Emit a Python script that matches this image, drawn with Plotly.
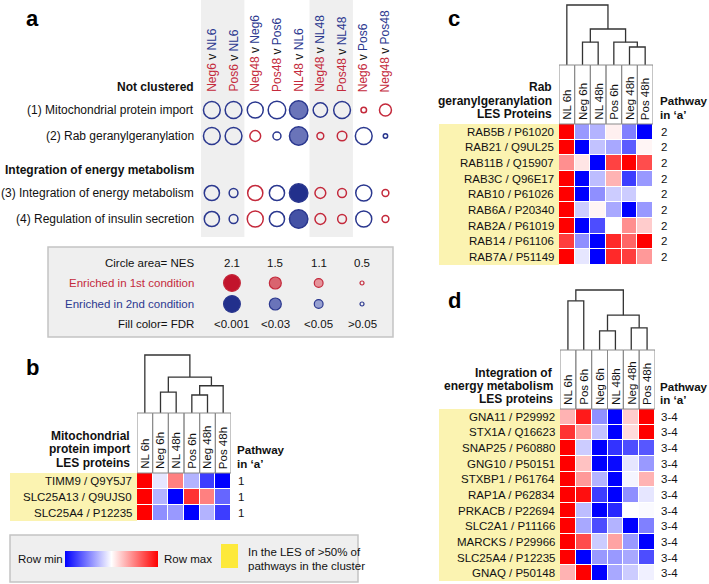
import plotly.graph_objects as go

W, H = 709, 584
FONT = "Arial, 'Liberation Sans', Helvetica, sans-serif"
TXT = "#111111"
RED = "#c42a3c"
BLUE = "#2b388f"

# ---------------- Panel a data ----------------
cond_first = ["Neg6", "Pos6", "Neg48", "Pos48", "NL48", "Neg48", "Pos48", "Neg6", "Neg48"]
cond_second = ["NL6", "NL6", "Neg6", "Pos6", "NL6", "NL48", "NL48", "Pos6", "Pos48"]
pathway_labels = ["(1) Mitochondrial protein import", "(2) Rab geranylgeranylation",
                  "(3) Integration of energy metabolism", "(4) Regulation of insulin secretion"]
group_labels = ["Not clustered", "Integration of energy metabolism"]

nes_mito = [2.1, 2.1, 2.0, 2.2, 2.3, 1.8, 2.1, 0.7, 1.5]
nes_rab = [2.1, 2.1, 1.35, 1.0, 2.3, 0.85, 1.2, 2.1, 0.55]
nes_energy = [1.9, 1.1, 1.9, 1.9, 2.3, 1.35, 1.1, 2.0, 0.85]
nes_insulin = [1.9, 1.1, 2.0, 1.9, 2.3, 1.35, 1.1, 2.0, 0.85]
# 1 = enriched in 1st condition (red), 2 = enriched in 2nd condition (blue)
side_mito = [2, 2, 2, 2, 2, 2, 2, 1, 1]
side_rab = [2, 2, 1, 2, 2, 1, 1, 2, 2]
side_energy = [2, 2, 1, 2, 2, 1, 1, 2, 1]
side_insulin = [2, 2, 1, 2, 2, 1, 1, 2, 1]
fdr_mito = [0.5, 0.5, 0.5, 0.5, 0.02, 0.5, 0.5, 0.5, 0.5]
fdr_rab = [0.5, 0.5, 0.5, 0.5, 0.02, 0.5, 0.5, 0.5, 0.5]
fdr_energy = [0.5, 0.5, 0.5, 0.5, 0.0005, 0.5, 0.5, 0.5, 0.5]
fdr_insulin = [0.5, 0.5, 0.5, 0.5, 0.005, 0.5, 0.5, 0.5, 0.5]

legend_nes = [2.1, 1.5, 1.1, 0.5]
legend_fdr = [0.0005, 0.02, 0.04, 0.5]
legend_fdr_labels = ["&lt;0.001", "&lt;0.03", "&lt;0.05", "&gt;0.05"]

# ---------------- Panel b data ----------------
b_columns = ["NL 6h", "Neg 6h", "NL 48h", "Pos 6h", "Neg 48h", "Pos 48h"]
b_rows = ["TIMM9 / Q9Y5J7", "SLC25A13 / Q9UJS0", "SLC25A4 / P12235"]
b_values = [
    [1.00, 0.45, 0.75, 0.35, 0.12, 0.00],
    [1.00, 0.35, 0.00, 0.90, 0.75, 0.20],
    [1.00, 0.28, 0.30, 0.00, 0.35, 0.12],
]
b_pathway = ["1", "1", "1"]
b_linkage = [(1, 2, 0.36), (3, 4, 0.31), (7, 5, 0.47), (6, 8, 0.62), (0, 9, 1.0)]

# ---------------- Panel c data ----------------
c_columns = ["NL 6h", "Neg 6h", "NL 48h", "Pos 6h", "Neg 48h", "Pos 48h"]
c_rows = ["RAB5B / P61020", "RAB21 / Q9UL25", "RAB11B / Q15907", "RAB3C / Q96E17",
          "RAB10 / P61026", "RAB6A / P20340", "RAB2A / P61019", "RAB14 / P61106",
          "RAB7A / P51149"]
c_values = [
    [1.00, 0.30, 0.35, 0.53, 0.25, 0.00],
    [1.00, 0.00, 0.38, 0.33, 0.18, 0.52],
    [0.72, 0.55, 0.00, 0.87, 1.00, 0.85],
    [1.00, 0.00, 0.37, 0.65, 0.12, 0.30],
    [1.00, 0.00, 0.28, 0.40, 0.40, 0.50],
    [1.00, 0.40, 0.52, 0.33, 0.00, 0.30],
    [1.00, 0.00, 0.15, 0.50, 0.72, 0.60],
    [0.88, 0.28, 0.00, 0.92, 0.80, 1.00],
    [1.00, 0.45, 0.00, 0.92, 0.88, 0.70],
]
c_pathway = ["2"] * 9
c_linkage = [(1, 2, 0.38), (4, 5, 0.30), (3, 7, 0.38), (6, 8, 0.60), (0, 9, 1.0)]

# ---------------- Panel d data ----------------
d_columns = ["NL 6h", "Pos 6h", "Neg 6h", "NL 48h", "Neg 48h", "Pos 48h"]
d_rows = ["GNA11 / P29992", "STX1A / Q16623", "SNAP25 / P60880", "GNG10 / P50151",
          "STXBP1 / P61764", "RAP1A / P62834", "PRKACB / P22694", "SLC2A1 / P11166",
          "MARCKS / P29966", "SLC25A4 / P12235", "GNAQ / P50148"]
d_values = [
    [0.65, 0.95, 0.28, 0.00, 0.60, 1.00],
    [0.90, 0.68, 0.38, 0.00, 0.57, 1.00],
    [1.00, 0.40, 0.00, 0.10, 0.15, 0.17],
    [1.00, 0.62, 0.00, 0.02, 0.45, 0.30],
    [1.00, 0.70, 0.35, 0.00, 0.48, 0.65],
    [1.00, 0.97, 0.12, 0.00, 0.28, 0.45],
    [1.00, 0.37, 0.00, 0.08, 0.50, 0.49],
    [1.00, 0.33, 0.15, 0.35, 0.00, 0.25],
    [1.00, 0.85, 0.40, 0.68, 0.30, 0.00],
    [1.00, 0.00, 0.30, 0.30, 0.33, 0.15],
    [0.65, 1.00, 0.00, 0.33, 0.40, 0.47],
]
d_pathway = ["3-4"] * 11
d_linkage = [(0, 1, 0.82), (2, 3, 0.32), (4, 5, 0.37), (7, 8, 0.58), (6, 9, 1.0)]

# ---------------- layout constants (pixels) ----------------
ROW_Y = [110, 136, 193, 219]
GROUP_Y = [87, 170]
SIZE_K = 8.0
CS = [[0, "#0000ff"], [0.5, "#ffffff"], [1, "#ff0000"]]
HIGHLIGHT = "#fbf3b1"


def PX(x):
    return x / W


def PY(y):
    return 1 - y / H


def ann(text, x, y, xanchor="left", yanchor="middle", size=12, color=TXT, bold=False,
        xref="paper", yref="paper", angle=0):
    if xref == "paper":
        x = PX(x)
    if yref == "paper":
        y = PY(y)
    return dict(text=f"<b>{text}</b>" if bold else text, x=x, y=y, xref=xref, yref=yref,
                xanchor=xanchor, yanchor=yanchor, showarrow=False, textangle=angle,
                font=dict(family=FONT, size=size, color=color))


def fill_color(side, fdr):
    if fdr >= 0.05:
        return "rgba(0,0,0,0)"
    reds = ["#c2142c", "#cc3448", "#d9646f", "#e5939a"]
    blues = ["#22308c", "#4452a5", "#6a74b9", "#97a0d0"]
    pal = reds if side == 1 else blues
    if fdr < 0.001:
        return pal[0]
    if fdr < 0.01:
        return pal[1]
    if fdr < 0.03:
        return pal[2]
    return pal[3]


def dendro_xy(linkage, n):
    pos = {i: (float(i), 0.0) for i in range(n)}
    xs, ys = [], []
    for k, (a, b, h) in enumerate(linkage):
        xa, ya = pos[a]
        xb, yb = pos[b]
        xs += [xa, xa, xb, xb, None]
        ys += [ya, h, h, yb, None]
        pos[n + k] = ((xa + xb) / 2, h)
    return xs, ys


fig = go.Figure()
shapes = []
annotations = []

# ================= Panel a =================
col_names = [f"{a} v {b}" for a, b in zip(cond_first, cond_second)]
for c0, c1 in [(-0.5, 1.5), (4.5, 6.5)]:
    shapes.append(dict(type="rect", xref="x2", yref="paper", x0=c0, x1=c1, y0=PY(237), y1=1,
                       fillcolor="#efefef", line=dict(width=0), layer="below"))

xs, ys, sizes, fills, lines = [], [], [], [], []
for r, (nr, sr, fr) in enumerate([(nes_mito, side_mito, fdr_mito), (nes_rab, side_rab, fdr_rab),
                                   (nes_energy, side_energy, fdr_energy),
                                   (nes_insulin, side_insulin, fdr_insulin)]):
    for c in range(len(col_names)):
        xs.append(col_names[c])
        ys.append(ROW_Y[r])
        sizes.append(SIZE_K * nr[c])
        fills.append(fill_color(sr[c], fr[c]))
        lines.append(RED if sr[c] == 1 else BLUE)
fig.add_trace(go.Scatter(x=xs, y=ys, mode="markers", xaxis="x2", yaxis="y", hoverinfo="skip",
                         marker=dict(size=sizes, color=fills, symbol="circle", opacity=1,
                                     line=dict(color=lines, width=1.5))))

for i, (a, b) in enumerate(zip(cond_first, cond_second)):
    txt = f'<span style="color:{RED}">{a}</span> v <span style="color:{BLUE}">{b}</span>'
    annotations.append(ann(txt, i, 94, xanchor="center", yanchor="bottom", xref="x2", angle=-90))

annotations.append(ann("a", 24, 19, size=22, bold=True, color="#000"))
annotations.append(ann(group_labels[0], 196, GROUP_Y[0], xanchor="right", bold=True))
annotations.append(ann(group_labels[1], 196, GROUP_Y[1], xanchor="right", bold=True))
for lab, y in zip(pathway_labels, ROW_Y):
    annotations.append(ann(lab, 196, y, xanchor="right"))

# legend box for panel a
shapes.append(dict(type="rect", xref="paper", yref="paper", x0=PX(48), x1=PX(393), y0=PY(337), y1=PY(247),
                   fillcolor="#efefef", line=dict(color="#c4c4c4", width=1.5), layer="below"))
leg_cats = [str(v) for v in legend_nes]
annotations.append(ann("Circle area= NES", 196, 263, xanchor="right", size=11.5))
annotations.append(ann("Enriched in 1st condition", 196, 283, xanchor="right", size=11.5, color=RED))
annotations.append(ann("Enriched in 2nd condition", 196, 304, xanchor="right", size=11.5, color=BLUE))
annotations.append(ann("Fill color= FDR", 196, 324, xanchor="right", size=11.5))
for i, (cat, fl) in enumerate(zip(leg_cats, legend_fdr_labels)):
    annotations.append(ann(cat, i, 263, xanchor="center", xref="x3", size=11.5))
    annotations.append(ann(fl, i, 324, xanchor="center", xref="x3", size=11.5))
for side, yrow in [(1, 283), (2, 304)]:
    fig.add_trace(go.Scatter(
        x=leg_cats, y=[yrow] * 4, mode="markers", xaxis="x3", yaxis="y", hoverinfo="skip",
        marker=dict(size=[SIZE_K * v for v in legend_nes], opacity=1,
                    color=[fill_color(side, f) for f in legend_fdr],
                    line=dict(color=RED if side == 1 else BLUE, width=1.2))))


# ================= Heatmap panels =================
def heat_panel(cols, rows, vals, pathway, linkage, xax, yax, dxax, dyax, box, leaf_y, top_y,
               label_left, title_lines, title_y, path_x, path_y, show_scale=False):
    x0, x1, y0, y1 = box
    cb = dict(orientation="h", x=PX(111.5), xanchor="center", y=PY(559), yanchor="middle",
              len=93, lenmode="pixels", thickness=16, thicknessmode="pixels",
              showticklabels=False, ticks="", outlinewidth=0, xpad=0, ypad=0)
    fig.add_trace(go.Heatmap(z=vals, x=cols, y=rows, colorscale=CS, zmin=0, zmax=1,
                             xgap=1, ygap=1, xaxis=xax, yaxis=yax, hoverinfo="skip",
                             showscale=show_scale, colorbar=cb if show_scale else None))
    dx, dy = dendro_xy(linkage, len(cols))
    fig.add_trace(go.Scatter(x=dx, y=dy, mode="lines", xaxis=dxax, yaxis=dyax, hoverinfo="skip",
                             line=dict(color="#333333", width=1.3)))
    # yellow highlight behind labels
    shapes.append(dict(type="rect", xref="paper", yref="paper", x0=PX(label_left), x1=PX(x0),
                       y0=PY(y1), y1=PY(y0), fillcolor=HIGHLIGHT, line=dict(width=0), layer="below"))
    # column header boxes
    for i, cname in enumerate(cols):
        shapes.append(dict(type="rect", xref=xax, yref="paper", x0=i - 0.5, x1=i + 0.5,
                           y0=PY(y0), y1=PY(leaf_y), line=dict(color="#8a8a8a", width=1),
                           fillcolor="rgba(0,0,0,0)"))
        annotations.append(ann(cname, i, y0 - 2, xanchor="center", yanchor="bottom",
                               xref=xax, angle=-90, size=11.5))
    for j, (rname, pv) in enumerate(zip(rows, pathway)):
        annotations.append(ann(rname, x0 - 3.5, j, xanchor="right", yref=yax, size=11.5))
        annotations.append(ann(pv, path_x + 1, j, xanchor="left", yref=yax, size=11.5))
    for t, ty in zip(title_lines, title_y):
        annotations.append(ann(t, x0 - 5.5, ty, xanchor="right", bold=True))
    annotations.append(ann("Pathway", path_x, path_y[0], bold=True, size=11.6))
    annotations.append(ann("in \u2018a\u2019", path_x, path_y[1], bold=True, size=11.6))


heat_panel(b_columns, b_rows, b_values, b_pathway, b_linkage, "x4", "y4", "x7", "y7",
           (137, 231, 473, 521), 413, 355, 10,
           ["Mitochondrial", "protein import", "LES proteins"], [436, 449, 463], 235, (449, 463),
           show_scale=True)
heat_panel(c_columns, c_rows, c_values, c_pathway, c_linkage, "x5", "y5", "x8", "y8",
           (559, 653, 124, 265), 65, 5, 439,
           ["Rab", "geranylgeranylation", "LES Proteins"], [87, 101, 114], 658, (101, 114))
heat_panel(d_columns, d_rows, d_values, d_pathway, d_linkage, "x6", "y6", "x9", "y9",
           (560, 655, 409, 581), 350, 290, 439,
           ["Integration of", "energy metabolism", "LES proteins"], [373, 386, 399], 658, (386, 399))

annotations.append(ann("b", 24, 367, size=22, bold=True, color="#000"))
annotations.append(ann("c", 446, 18, size=22, bold=True, color="#000"))
annotations.append(ann("d", 446, 300, size=22, bold=True, color="#000"))

# bottom legend
shapes.append(dict(type="rect", xref="paper", yref="paper", x0=PX(10), x1=PX(358), y0=PY(582), y1=PY(535),
                   fillcolor="#efefef", line=dict(color="#c4c4c4", width=1.5), layer="below"))
shapes.append(dict(type="rect", xref="paper", yref="paper", x0=PX(221), x1=PX(238), y0=PY(568), y1=PY(544),
                   fillcolor="#fde93b", line=dict(width=0)))
annotations.append(ann("Row min", 16, 559, size=11.5))
annotations.append(ann("Row max", 162, 559, size=11.5))
annotations.append(ann("In the LES of &gt;50% of", 246, 552, size=11.5))
annotations.append(ann("pathways in the cluster", 246, 566, size=11.5))

# ================= axes =================
hidden = dict(visible=False, fixedrange=True)
lay = dict(
    width=W, height=H, margin=dict(l=0, r=0, t=0, b=0), showlegend=False,
    paper_bgcolor="white", plot_bgcolor="rgba(0,0,0,0)",
    shapes=shapes, annotations=annotations,
    yaxis=dict(domain=[0, 1], range=[H, 0], **hidden),
    xaxis2=dict(domain=[PX(201), PX(396.3)], type="category", categoryarray=col_names,
                categoryorder="array", range=[-0.5, 8.5], anchor="y", **hidden),
    xaxis3=dict(domain=[PX(210.3), PX(383.7)], type="category", categoryarray=leg_cats,
                categoryorder="array", range=[-0.5, 3.5], anchor="y", **hidden),
)


def hm_axes(xn, yn, dxn, dyn, cols, rows, box, leaf_y, top_y):
    x0, x1, y0, y1 = box
    span = leaf_y - top_y
    lay[f"xaxis{xn}"] = dict(domain=[PX(x0), PX(x1)], type="category", categoryarray=cols,
                             categoryorder="array", range=[-0.5, len(cols) - 0.5],
                             anchor=f"y{yn}", **hidden)
    lay[f"yaxis{yn}"] = dict(domain=[PY(y1), PY(y0)], type="category", categoryarray=rows,
                             categoryorder="array", range=[len(rows) - 0.5, -0.5],
                             anchor=f"x{xn}", **hidden)
    lay[f"xaxis{dxn}"] = dict(domain=[PX(x0), PX(x1)], range=[-0.5, len(cols) - 0.5],
                              anchor=f"y{dyn}", **hidden)
    lay[f"yaxis{dyn}"] = dict(domain=[PY(leaf_y), PY(leaf_y - span * 1.05)], range=[0, 1.05],
                              anchor=f"x{dxn}", **hidden)


hm_axes(4, 4, 7, 7, b_columns, b_rows, (137, 231, 473, 521), 413, 355)
hm_axes(5, 5, 8, 8, c_columns, c_rows, (559, 653, 124, 265), 65, 5)
hm_axes(6, 6, 9, 9, d_columns, d_rows, (560, 655, 409, 581), 350, 290)

fig.update_layout(**lay)
fig.write_html("out.html", config={"displayModeBar": False},
               post_script="document.body.style.margin='0px';document.body.style.overflow='hidden';")
